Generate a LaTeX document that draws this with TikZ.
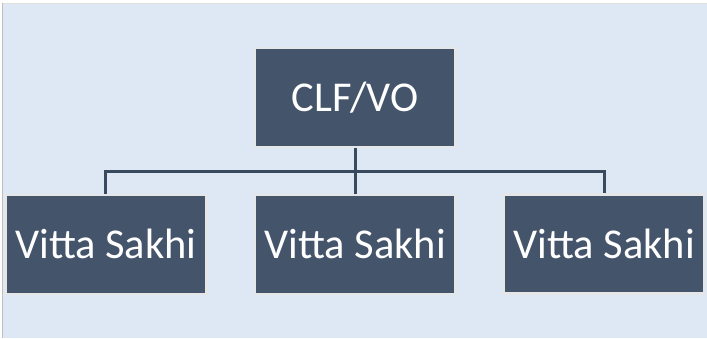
\documentclass[tikz,border=0pt]{standalone}
\usepackage{fontspec}
\setmainfont{Carlito}
\definecolor{slate}{HTML}{44546A}
\definecolor{sky}{HTML}{DEE8F4}
\definecolor{rim}{HTML}{E4E6E8}
\definecolor{wire}{HTML}{3A4A5E}

\begin{document}
\begin{tikzpicture}[x=1pt,y=-1pt,
  box/.style={fill=slate,draw=rim,line width=2.5pt,text=white,inner sep=0pt,
    minimum width=201pt,minimum height=99pt,font=\fontsize{42.5}{50}\selectfont},
  wire/.style={draw=wire,line width=3pt}]
% page and background
\fill[white] (0,0) rectangle (707,338);
\fill[sky] (3,3) rectangle (707,338);
\draw[gray!50,line width=1.2pt] (2.5,3) -- (2.5,338);
\draw[gray!25,line width=0.8pt] (3,3) -- (707,3);
% boxes
\node[box] (clf) at (355.5,97.5) {CLF/VO};
\node[box] (sakhiA) at (106,244.5) {Vitta Sakhi};
\node[box] (sakhiB) at (355.5,244.5) {Vitta Sakhi};
\node[box] (sakhiC) at (604.5,244) {Vitta Sakhi};
% connectors
\coordinate (bus) at (355.5,172);
\draw[wire] (clf.south) -- (sakhiB.north);
\draw[wire] (sakhiA.north) |- (bus) -| (sakhiC.north);
\end{tikzpicture}
\end{document}
